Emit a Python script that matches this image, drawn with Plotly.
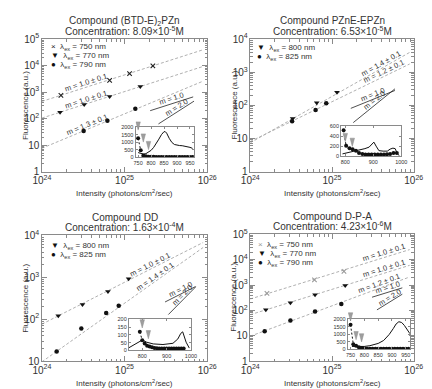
import math
import plotly.graph_objects as go

W, H = 432, 389
FONT = "Liberation Sans, Arial, sans-serif"

# ---------------- data ----------------
titles = ["Compound (BTD-E)<sub>2</sub>PZn", "Compound PZnE-EPZn", "Compound DD", "Compound D-P-A"]
concs = ["Concentration: 8.09×10<sup>-5</sup>M", "Concentration: 6.53×10<sup>-5</sup>M",
         "Concentration: 1.63×10<sup>-4</sup>M", "Concentration: 4.23×10<sup>-6</sup>M"]
x_title = "Intensity (photons/cm<sup>2</sup>/sec)"
y_title = "Fluorescence (a.u.)"
y_ranges = [(0, 5), (0, 4), (1, 4), (0, 5)]

# Panel 1
p1_wl = [750, 770, 790]
p1_x = [[1.7e24, 6.6e24, 1.15e25, 2.2e25],
        [1.66e24, 3.25e24, 6.6e24, 1.55e25],
        [3.2e24, 6.2e24, 1.35e25]]
p1_y = [[760, 2800, 5000, 9800],
        [175, 340, 690, 1620],
        [34, 83, 236]]
p1_m = [1.0, 1.0, 1.3]
p1_b = [2.65, 2.02, 0.88]          # log10 of fit at 1e24
p1_mlab = ["m = 1.0 ± 0.1", "m = 1.0 ± 0.1", "m = 1.3 ± 0.1"]
p1_mlab_x = [24.53, 24.53, 24.55]

# Panel 2
p2_wl = [800, 825]
p2_x = [[3.3e24, 6.5e24, 1.15e25],
        [3.25e24, 6.3e24, 8.5e24]]
p2_y = [[40, 120, 250],
        [33, 73, 115]]
p2_m = [1.4, 1.2]
p2_b = [0.87, 0.91]
p2_mlab = ["m = 1.4 ± 0.1", "m = 1.2 ± 0.1"]
p2_mlab_x = [25.6, 25.63]

# Panel 3
p3_wl = [800, 825]
p3_x = [[1.58e24, 3.1e24, 6.3e24, 1.12e25],
        [1.51e24, 3.0e24, 6.0e24, 8.5e24]]
p3_y = [[120, 225, 460, 920],
        [17, 60, 140, 210]]
p3_m = [1.0, 1.4]
p3_b = [1.88, 0.98]
p3_mlab = ["m = 1.0 ± 0.1", "m = 1.4 ± 0.1"]
p3_mlab_x = [25.31, 25.37]

# Panel 4
p4_wl = [750, 770, 790]
p4_x = [[1.6e24, 6.1e24, 1.4e25],
        [1.55e24, 3.1e24, 6.2e24, 1.45e25],
        [1.5e24, 3.1e24, 6.2e24, 1.3e25]]
p4_y = [[470, 1600, 3500],
        [105, 200, 410, 950],
        [15, 40, 90, 180]]
p4_m = [1.0, 1.0, 1.2]
p4_b = [2.45, 1.83, 0.98]
p4_mlab = ["m = 1.0 ± 0.1", "m = 1.0 ± 0.1", "m = 1.2 ± 0.1"]
p4_mlab_x = [25.63, 25.63, 25.57]

# reference slope segments: (log x0, log x1, log y at x0)
ref_m1 = [(25.31, 25.83, 2.30), (25.23, 25.77, 1.91), (25.49, 25.86, 2.41), (25.49, 25.86, 2.52)]
ref_m2 = [(25.41, 25.84, 1.80), (25.26, 25.77, 1.48), (25.53, 25.86, 2.11), (25.55, 25.86, 2.02)]

# inset spectra
i1_line_x = [750, 760, 770, 780, 790, 800, 810, 820, 830, 840, 850, 855, 860, 870, 880, 890, 900, 910, 920, 930, 940, 950, 960]
i1_line_y = [300, 230, 200, 230, 320, 450, 650, 900, 1200, 1500, 1700, 1690, 1600, 1250, 980, 840, 790, 770, 760, 740, 700, 650, 580]
i1_dot_x = [750, 760, 770, 780, 790, 800, 810, 820, 830, 840, 850, 860, 870, 880, 890, 900, 910, 920, 930, 940, 950, 960]
i1_dot_y = [1250, 450, 110, 50, 30, 20, 15, 12, 10, 10, 10, 10, 10, 10, 10, 10, 10, 10, 10, 10, 10, 10]
i1_exc = [750, 770, 790]
i1_exc_tip = [1800, 1000, 500]

i2_line_x = [790, 810, 830, 850, 870, 885, 895, 902, 910, 920, 935, 950, 960, 970, 978, 985, 992]
i2_line_y = [45, 70, 95, 120, 150, 180, 230, 280, 200, 110, 100, 100, 140, 160, 150, 60, 10]
i2_dot_x = [794, 803, 815, 826, 838, 849, 861, 872, 883, 894, 905, 916, 927, 938, 949, 960, 972, 984]
i2_dot_y = [516, 206, 160, 140, 110, 65, 45, 32, 32, 32, 32, 32, 32, 35, 40, 45, 65, 65]
i2_exc = [800, 825]
i2_exc_tip = [290, 195]

i3_line_x = [745, 770, 790, 800, 818, 845, 885, 926, 946, 958, 966, 980, 993]
i3_line_y = [17, 38, 59, 67, 53, 42, 38, 46, 74, 110, 120, 53, 15]
i3_dot_x = [790, 800, 810, 820, 830, 840, 850, 860, 870, 880, 890, 900, 910, 920, 930, 940, 950, 960, 970]
i3_dot_y = [120, 65, 45, 30, 25, 20, 15, 14, 13, 13, 13, 13, 13, 13, 13, 13, 13, 13, 13]
i3_exc = [800, 825]
i3_exc_tip = [145, 75]

i4_line_x = [755, 770, 790, 800, 820, 850, 870, 890, 905, 915, 925, 935, 945, 955, 965]
i4_line_y = [200, 190, 190, 200, 250, 400, 600, 1000, 1400, 1700, 1850, 1800, 1600, 1300, 1050]
i4_dot_x = [750, 760, 770, 780, 790, 800, 810, 820, 830, 840, 850, 860, 870, 880, 890, 900, 910, 920, 930, 940, 950, 960]
i4_dot_y = [1650, 350, 250, 150, 100, 60, 50, 50, 50, 50, 50, 50, 50, 50, 50, 50, 50, 50, 50, 50, 50, 50]
i4_exc = [750, 770, 790]
i4_exc_tip = [1900, 650, 500]

inset_xr = [(740, 965), (785, 1000), (745, 1000), (740, 965)]
inset_yr = [(0, 2000), (0, 600), (0, 200), (0, 2000)]
inset_xt = [[750, 800, 850, 900, 950], [800, 900, 1000], [800, 900, 1000], [750, 800, 850, 900, 950]]
inset_yt = [[0, 500, 1000, 1500, 2000], [0, 200, 400, 600], [0, 50, 100, 150, 200], [0, 500, 1000, 1500, 2000]]

# ---------------- style / geometry ----------------
main_px = [(26, 199, 25, 162), (244, 415, 25, 162), (26, 199, 228, 358), (244, 415, 227, 358)]
inset_px = [(124, 185, 116, 147), (339, 402, 115, 146), (117, 182, 315, 347), (346, 411, 315, 346)]
legend_px = [(33, 33), (249, 34), (33, 239), (250, 238)]
LEG_DY = 9.5
TRI_HALF_W_PX = 2.3
TRI_H_PX = 8.5
TRI_TOP_PAD_PX = 12

sym = {"x": "x-thin", "v": "triangle-down", "o": "circle"}
glyph = {"x": "×", "v": "▼", "o": "●"}
panel_syms = [["x", "v", "o"], ["v", "o"], ["v", "o"], ["x", "v", "o"]]
panel_cols = [["#222", "#111", "#111"], ["#111", "#111"], ["#111", "#111"], ["#999", "#111", "#111"]]

panels = [
    (p1_wl, p1_x, p1_y, p1_m, p1_b, p1_mlab, p1_mlab_x),
    (p2_wl, p2_x, p2_y, p2_m, p2_b, p2_mlab, p2_mlab_x),
    (p3_wl, p3_x, p3_y, p3_m, p3_b, p3_mlab, p3_mlab_x),
    (p4_wl, p4_x, p4_y, p4_m, p4_b, p4_mlab, p4_mlab_x),
]
insets = [
    (i1_line_x, i1_line_y, i1_dot_x, i1_dot_y, i1_exc, i1_exc_tip),
    (i2_line_x, i2_line_y, i2_dot_x, i2_dot_y, i2_exc, i2_exc_tip),
    (i3_line_x, i3_line_y, i3_dot_x, i3_dot_y, i3_exc, i3_exc_tip),
    (i4_line_x, i4_line_y, i4_dot_x, i4_dot_y, i4_exc, i4_exc_tip),
]


def dom_x(a, b):
    return [a / W, b / W]


def dom_y(top, bot):
    return [1 - bot / H, 1 - top / H]


fig = go.Figure()
layout = {}
ann = []
AX_LINE = "#8a8a8a"
TXT = "#333"

for i in range(4):
    n = i + 1
    xk = "xaxis" if n == 1 else f"xaxis{n}"
    yk = "yaxis" if n == 1 else f"yaxis{n}"
    xr = "x" if n == 1 else f"x{n}"
    yr = "y" if n == 1 else f"y{n}"
    x0, x1, y0, y1 = main_px[i]
    ylo, yhi = y_ranges[i]
    common = dict(type="log", dtick=1, exponentformat="power", showgrid=False, zeroline=False,
                  showline=True, linecolor=AX_LINE, linewidth=1, mirror="ticks",
                  ticks="inside", ticklen=5, tickcolor=AX_LINE,
                  minor=dict(ticks="inside", ticklen=2.5, dtick="D1", tickcolor=AX_LINE, showgrid=False),
                  tickfont=dict(size=8, color=TXT, family=FONT))
    layout[xk] = dict(common, domain=dom_x(x0, x1), anchor=yr, range=[24, 26])
    layout[yk] = dict(common, domain=dom_y(y0, y1), anchor=xr, range=[ylo, yhi])

    wl, xs, ys, ms, bs, mlab, mlab_x = panels[i]
    xppd = (x1 - x0) / 2.0
    yppd = (y1 - y0) / float(yhi - ylo)
    for k in range(len(wl)):
        s = panel_syms[i][k]
        col = panel_cols[i][k]
        # fit line
        lx = [24.0, 25.95]
        fig.add_trace(go.Scatter(x=[10 ** v for v in lx], y=[10 ** (bs[k] + ms[k] * (v - 24)) for v in lx],
                                 mode="lines", line=dict(color="#b0b0b0", width=1, dash="3px,2px"),
                                 xaxis=xr, yaxis=yr, showlegend=False, hoverinfo="skip"))
        if s == "x":
            mk = dict(symbol=sym[s], color=col, size=4.5, line=dict(color=col, width=1.1))
        elif s == "v":
            mk = dict(symbol=sym[s], color=col, size=5)
        else:
            mk = dict(symbol=sym[s], color=col, size=4.5)
        fig.add_trace(go.Scatter(x=xs[k], y=ys[k], mode="markers", marker=mk,
                                 xaxis=xr, yaxis=yr, showlegend=False))
        # slope label
        ang = -math.degrees(math.atan(ms[k] * yppd / xppd))
        lxv = mlab_x[k]
        ann.append(dict(x=lxv, y=bs[k] + ms[k] * (lxv - 24), xref=xr, yref=yr, text=mlab[k],
                        showarrow=False, textangle=ang, yshift=5, font=dict(size=7.5, color=TXT, family=FONT)))
        # legend row
        lpx, lpy = legend_px[i]
        ann.append(dict(x=lpx / W, y=1 - (lpy + k * LEG_DY) / H, xref="paper", yref="paper",
                        xanchor="left", yanchor="middle", showarrow=False,
                        text=f"<span style='color:{col}'>{glyph[s]}</span>  λ<sub>ex</sub> = {wl[k]} nm",
                        font=dict(size=8, color=TXT, family=FONT)))

    # reference slope segments
    for seg, mval, lab in [(ref_m1[i], 1.0, "m = 1.0"), (ref_m2[i], 2.0, "m = 2.0")]:
        sx0, sx1, sy0 = seg
        fig.add_trace(go.Scatter(x=[10 ** sx0, 10 ** sx1], y=[10 ** sy0, 10 ** (sy0 + mval * (sx1 - sx0))],
                                 mode="lines", line=dict(color="#222", width=0.8),
                                 xaxis=xr, yaxis=yr, showlegend=False, hoverinfo="skip"))
        mx = (sx0 + sx1) / 2
        ang = -math.degrees(math.atan(mval * yppd / xppd))
        ann.append(dict(x=mx, y=sy0 + mval * (mx - sx0), xref=xr, yref=yr, text=lab, showarrow=False,
                        textangle=ang, yshift=5, font=dict(size=7.5, color=TXT, family=FONT)))

    # titles
    cx = (x0 + x1) / 2 / W
    ann.append(dict(x=cx, y=1 - (y0 - 19) / H, xref="paper", yref="paper", text=titles[i], showarrow=False,
                    xanchor="center", yanchor="middle", font=dict(size=10, color=TXT, family=FONT)))
    ann.append(dict(x=cx, y=1 - (y0 - 8.5) / H, xref="paper", yref="paper", text=concs[i], showarrow=False,
                    xanchor="center", yanchor="middle", font=dict(size=10, color=TXT, family=FONT)))
    # axis titles
    ann.append(dict(x=cx, y=1 - (y1 + 22.5) / H, xref="paper", yref="paper", text=x_title, showarrow=False,
                    xanchor="center", yanchor="middle", font=dict(size=8, color=TXT, family=FONT)))
    ann.append(dict(x=(x0 - 17) / W, y=1 - (y0 + y1) / 2 / H, xref="paper", yref="paper", text=y_title,
                    showarrow=False, textangle=-90, xanchor="center", yanchor="middle",
                    font=dict(size=8, color=TXT, family=FONT)))

    # inset
    n2 = i + 5
    ixk, iyk = f"xaxis{n2}", f"yaxis{n2}"
    ixr, iyr = f"x{n2}", f"y{n2}"
    a0, a1, b0, b1 = inset_px[i]
    icommon = dict(showgrid=False, zeroline=False, showline=True, linecolor=AX_LINE, linewidth=1, mirror="ticks",
                   ticks="inside", ticklen=2, tickcolor=AX_LINE, tickfont=dict(size=5.5, color=TXT, family=FONT))
    layout[ixk] = dict(icommon, domain=dom_x(a0, a1), anchor=iyr, range=list(inset_xr[i]), tickvals=inset_xt[i])
    layout[iyk] = dict(icommon, domain=dom_y(b0, b1), anchor=ixr, range=list(inset_yr[i]), tickvals=inset_yt[i])
    lxs, lys, dxs, dys, exs, ets = insets[i]
    fig.add_trace(go.Scatter(x=lxs, y=lys, mode="lines", line=dict(color="#111", width=1),
                             xaxis=ixr, yaxis=iyr, showlegend=False))
    fig.add_trace(go.Scatter(x=dxs, y=dys, mode="lines+markers", line=dict(color="#111", width=1, dash="2px,2px"),
                             marker=dict(symbol="circle", color="#111", size=4),
                             xaxis=ixr, yaxis=iyr, showlegend=False))

    # excitation-wavelength triangles on an invisible axis pair that extends above the inset
    n3 = i + 9
    txk, tyk = f"xaxis{n3}", f"yaxis{n3}"
    txr, tyr = f"x{n3}", f"y{n3}"
    ylo_i, yhi_i = inset_yr[i]
    xlo_i, xhi_i = inset_xr[i]
    per_px_y = (yhi_i - ylo_i) / float(b1 - b0)
    per_px_x = (xhi_i - xlo_i) / float(a1 - a0)
    layout[txk] = dict(domain=dom_x(a0, a1), anchor=tyr, range=[xlo_i, xhi_i], visible=False)
    layout[tyk] = dict(domain=dom_y(b0 - TRI_TOP_PAD_PX, b1), anchor=txr,
                       range=[ylo_i, yhi_i + TRI_TOP_PAD_PX * per_px_y], visible=False)
    tx, ty = [], []
    hw = TRI_HALF_W_PX * per_px_x
    th = TRI_H_PX * per_px_y
    for wv, tip in zip(exs, ets):
        tx += [wv - hw, wv + hw, wv, wv - hw, None]
        ty += [tip + th, tip + th, tip, tip + th, None]
    fig.add_trace(go.Scatter(x=tx, y=ty, mode="lines", fill="toself", fillcolor="#9e9e9e",
                             line=dict(color="#8c8c8c", width=0.5),
                             xaxis=txr, yaxis=tyr, showlegend=False, hoverinfo="skip"))

layout["annotations"] = ann
fig.update_layout(**layout)
fig.update_layout(width=W, height=H, margin=dict(l=0, r=0, t=0, b=0),
                  paper_bgcolor="white", plot_bgcolor="rgba(0,0,0,0)", showlegend=False,
                  font=dict(family=FONT, color=TXT))
fig.write_html("out.html")
